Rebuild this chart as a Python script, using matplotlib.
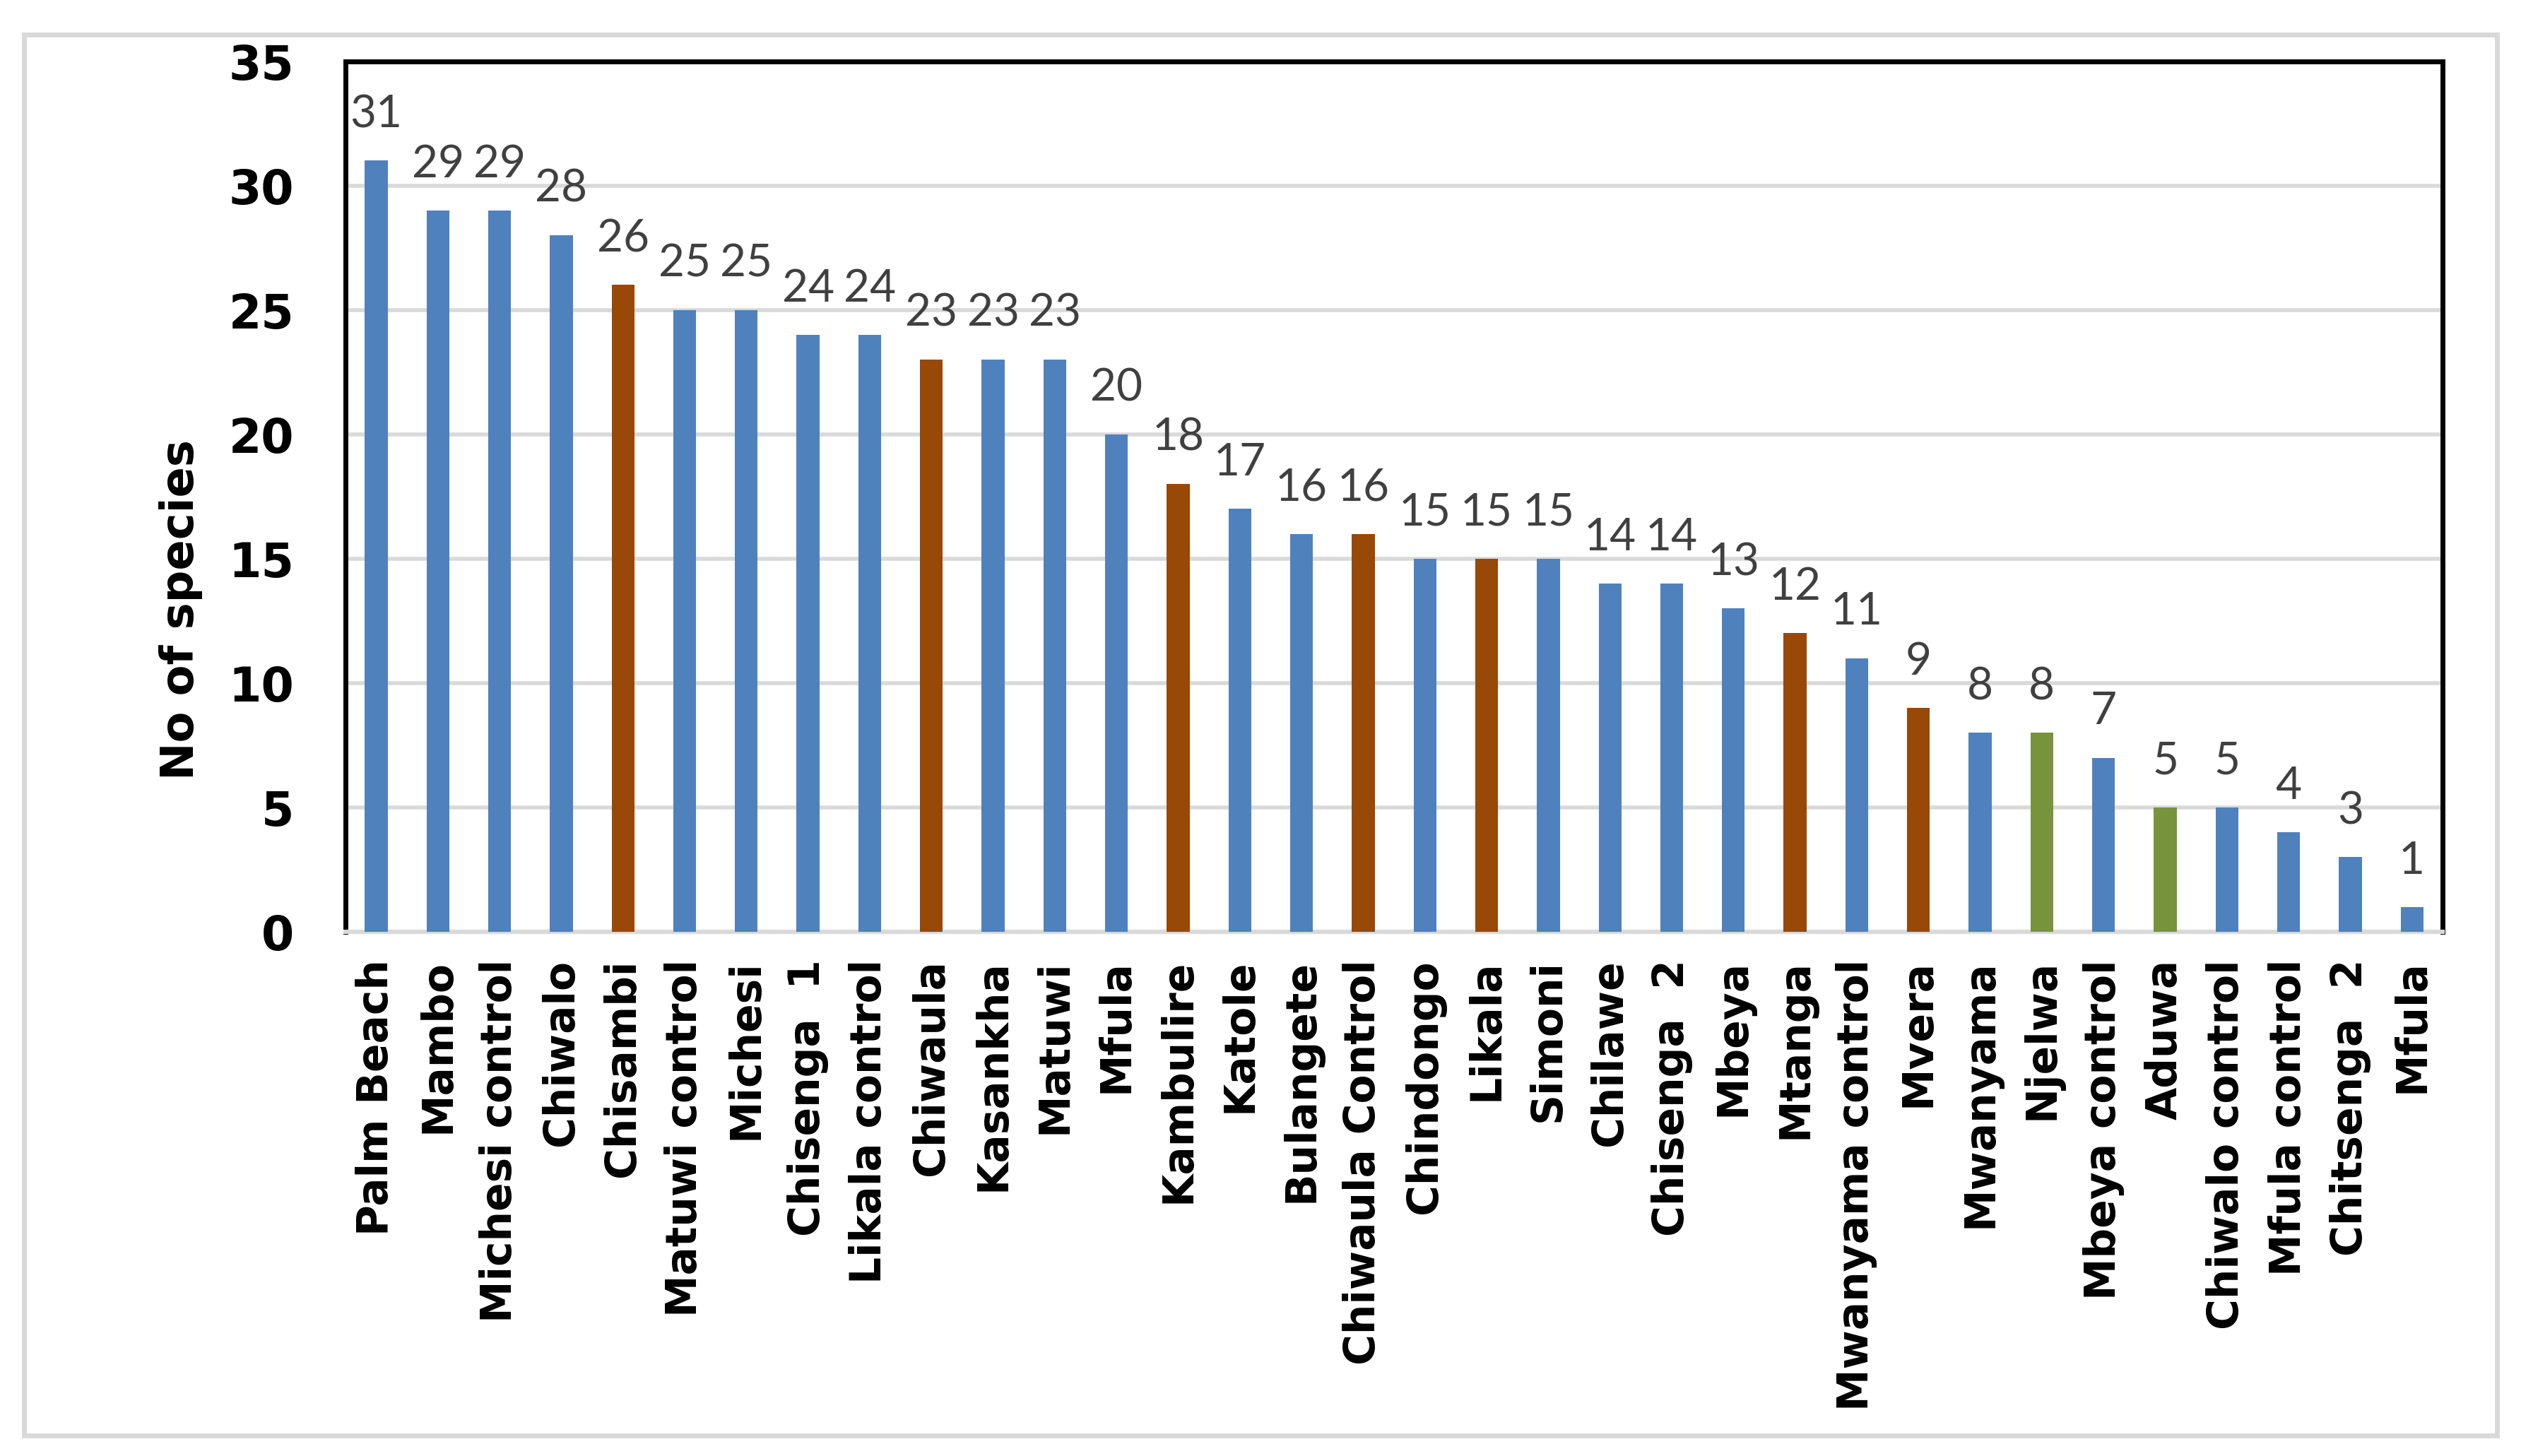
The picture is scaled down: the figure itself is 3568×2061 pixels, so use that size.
import matplotlib
matplotlib.use("Agg")
import matplotlib.pyplot as plt
from matplotlib.patches import Rectangle

# data
sites = ["Palm Beach", "Mambo", "Michesi control", "Chiwalo", "Chisambi",
         "Matuwi control", "Michesi", "Chisenga  1", "Likala control", "Chiwaula",
         "Kasankha", "Matuwi", "Mfula", "Kambulire", "Katole", "Bulangete",
         "Chiwaula Control", "Chindongo", "Likala", "Simoni", "Chilawe",
         "Chisenga  2", "Mbeya", "Mtanga", "Mwanyama control", "Mvera",
         "Mwanyama", "Njelwa", "Mbeya control", "Aduwa", "Chiwalo control",
         "Mfula control", "Chitsenga  2", "Mfula"]
species = [31, 29, 29, 28, 26, 25, 25, 24, 24, 23, 23, 23, 20, 18, 17, 16,
           16, 15, 15, 15, 14, 14, 13, 12, 11, 9, 8, 8, 7, 5, 5, 4, 3, 1]
group = ["b", "b", "b", "b", "r", "b", "b", "b", "b", "r", "b", "b", "b", "r",
         "b", "b", "r", "b", "r", "b", "b", "b", "b", "r", "b", "r", "b", "g",
         "b", "g", "b", "b", "b", "b"]

colors = {"b": "#4F81BD", "r": "#984807", "g": "#77933C"}
bar_cols = [colors[g] for g in group]

fig = plt.figure(figsize=(17.84, 10.305), dpi=200)
ax = fig.add_axes([0.137, 0.360, 0.832, 0.598])

x = list(range(len(sites)))
ax.bar(x, species, width=0.37, color=bar_cols, zorder=3)

for xi, v in zip(x, species):
    ax.annotate(str(v), (xi, v), xytext=(0, 17), textcoords="offset points",
                ha="center", va="baseline", fontsize=23, color="#404040",
                family="Lato")

ax.set_xlim(-0.5, len(sites) - 0.5)
ax.set_ylim(0, 35)
ax.set_yticks(range(0, 36, 5))
ax.set_xticks(x)
ax.set_xticklabels(sites, rotation=90, fontsize=21.5, fontweight="bold",
                   family="DejaVu Sans")
for lab in ax.get_yticklabels():
    lab.set_fontsize(24)
    lab.set_fontweight("bold")
    lab.set_family("DejaVu Sans")
ax.tick_params(axis="both", length=0)
ax.tick_params(axis="y", pad=26)
ax.tick_params(axis="x", pad=14)

ax.grid(axis="y", color="#D9D9D9", linewidth=2, zorder=0)
for s in ["top", "left", "right"]:
    ax.spines[s].set_color("black")
    ax.spines[s].set_linewidth(2.5)
ax.spines["bottom"].set_color("#D9D9D9")
ax.spines["bottom"].set_linewidth(2.2)

ax.set_ylabel("No of species", fontsize=23, fontweight="bold",
              family="DejaVu Sans")
ax.yaxis.set_label_coords(-0.068, 0.37)

# light grey frame round the whole chart
fig.patches.append(Rectangle((0.0096, 0.014), 0.981, 0.962,
                             transform=fig.transFigure, fill=False,
                             edgecolor="#D9D9D9", linewidth=2.5))

fig.savefig("out.png", dpi=200, facecolor="white")
